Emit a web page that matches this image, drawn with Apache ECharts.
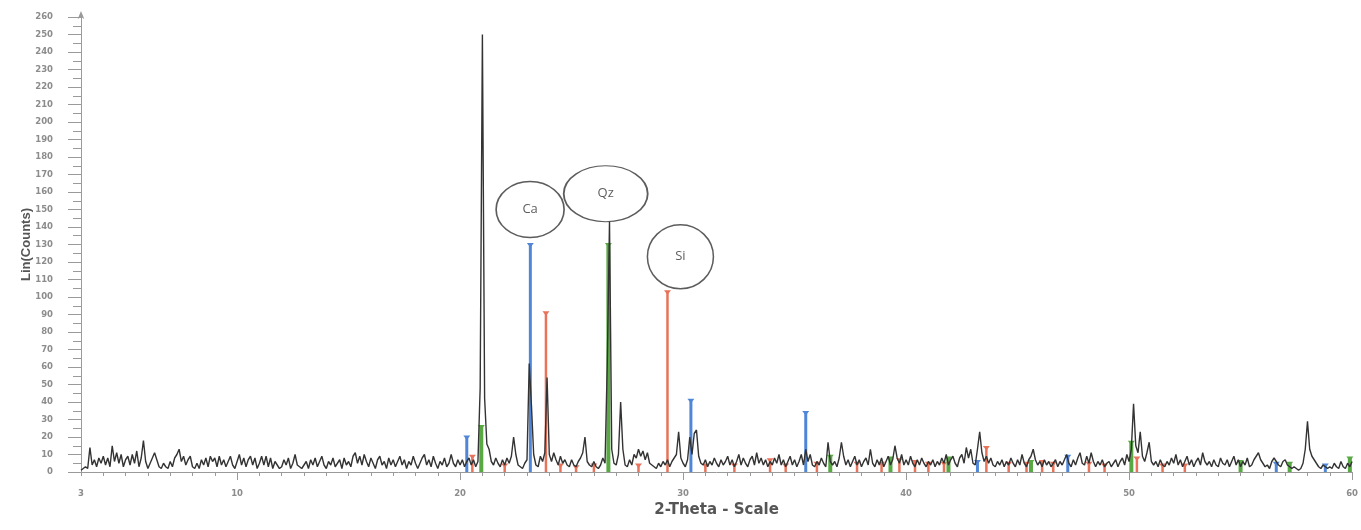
<!DOCTYPE html>
<html>
<head>
<meta charset="utf-8">
<script src="https://cdn.jsdelivr.net/npm/echarts@6/dist/echarts.min.js"></script>
<style>
html,body{margin:0;padding:0;background:#fff;}
#chart{width:1361px;height:530px;}
</style>
</head>
<body>
<div id="chart"></div>
<script>
// ---- scan grid (2-theta, degrees) ----
const scanStart = 3.0;
const scanStep = 0.1;

// ---- measured counts, 0.1 deg steps ----
const counts3to10 = [
  1,2,3,2,14,4,7,3,8,5,
  9,4,8,3,15,6,11,5,10,3,
  7,9,4,10,5,12,3,8,18,6,
  2,5,8,11,7,3,2,5,3,2,
  6,3,8,10,13,6,9,4,7,9,
  3,2,5,2,7,4,8,3,9,6,
  8,3,9,4,7,3,6,9,4,2
];
const counts10to20 = [
  6,10,4,8,3,7,9,4,8,2,
  5,9,4,9,3,8,2,6,4,2,
  3,7,4,8,2,5,10,4,3,2,
  4,6,2,7,4,8,3,6,9,4,
  2,6,4,8,3,5,7,2,8,4,
  6,3,9,11,5,9,4,10,6,3,
  8,5,2,7,9,4,6,2,8,4,
  7,3,6,9,4,7,2,6,4,9,
  5,2,5,8,10,4,7,3,9,5,
  2,6,4,8,3,5,10,5,3,7
];
const counts20to30 = [
  4,7,3,6,8,4,7,3,6,48,
  250,42,16,13,6,4,8,5,3,7,
  4,8,5,9,20,10,4,3,2,5,
  7,62,38,10,4,3,9,6,11,54,
  10,6,11,7,4,9,5,7,4,3,
  7,4,3,6,8,11,20,6,4,3,
  6,3,2,4,8,5,62,143,13,5,
  4,10,40,13,4,3,7,4,10,8,
  13,9,12,7,11,5,4,3,2,5,
  3,6,4,7,3,6,8,10,23,8
];
const counts30to40 = [
  5,3,7,20,10,22,24,9,5,4,
  7,3,6,4,8,5,3,7,4,6,
  9,4,7,3,6,10,4,8,5,3,
  7,9,4,11,5,8,4,7,3,6,
  4,8,5,10,4,7,3,6,9,4,
  7,3,6,10,4,13,6,10,4,3,
  6,4,8,5,3,17,6,4,6,3,
  8,17,9,4,7,3,6,9,4,7,
  3,6,8,4,13,5,3,7,4,8,
  3,6,9,4,7,15,8,5,10,4
];
const counts40to50 = [
  7,4,9,5,3,7,4,8,5,3,
  6,4,7,3,6,4,8,5,10,4,
  7,9,5,3,8,10,5,14,8,13,
  5,4,13,23,11,6,9,5,8,4,
  3,6,4,7,3,6,4,8,5,3,
  7,4,10,5,3,7,9,13,7,4,
  6,3,7,4,6,3,5,7,3,6,
  4,7,10,5,3,7,4,8,11,5,
  4,9,5,11,6,3,6,4,7,3,
  5,6,3,5,7,3,6,8,4,10
];
const counts50to60 = [
  6,13,39,15,11,23,9,6,11,17,
  6,4,6,3,7,4,3,6,4,8,
  5,10,4,7,3,6,9,4,7,3,
  6,8,4,11,6,4,6,3,7,4,
  3,8,5,4,7,3,6,9,4,7,
  3,6,4,8,3,4,7,9,11,7,
  5,3,4,2,6,8,6,4,3,6,
  7,4,3,2,3,2,1,2,5,13,
  29,13,9,7,5,3,2,4,3,2,
  3,2,5,3,2,6,3,2,5,3,
  6
];

// ---- reference patterns (stick position, relative height) ----
const calciteSticks = [[20.3,20],[23.15,130],[30.35,41],[35.5,34],[43.2,6],[47.25,9],[56.6,5],[58.8,4]];
const siliconSticks = [[20.55,9],[22.0,4],[23.85,91],[24.5,4],[25.2,3],[26.0,4],[28.0,4],[29.3,103],[31.0,4],[32.3,4],[33.9,7],[34.6,4],[36.0,5],[37.8,5],[38.9,5],[39.7,7],[40.4,6],[41.0,5],[41.7,5],[43.6,14],[44.6,5],[45.4,5],[46.1,6],[46.6,5],[48.2,5],[48.9,4],[50.35,8],[51.5,4],[52.5,4]];
const quartzSticks = [[20.95,26],[26.65,130],[36.6,9],[39.3,8],[41.9,8],[45.6,6],[50.1,17],[55.0,6],[57.2,5],[59.9,8]];

// ---- annotation labels (centre in data coords) ----
const phaseLabels = ['Ca','Qz','Si'];
const labelAngle = [23.14, 26.53, 29.88];
const labelCounts = [150, 159, 123];

// ---- axis ticks ----
const xLabelValues = [3,10,20,30,40,50,60];
const xMajorTicks = [10,20,30,40,50,60];

const allCounts = [].concat(counts3to10, counts10to20, counts20to30, counts30to40, counts40to50, counts50to60);
const scanData = allCounts.map((c, i) => [+(scanStart + i * scanStep).toFixed(2), c]);

function stickRenderer(color, w) {
  return function (params, api) {
    const x = api.value(0), h = api.value(1);
    const top = api.coord([x, h]);
    const base = api.coord([x, 0]);
    return {
      type: 'group',
      children: [
        { type: 'rect', shape: { x: top[0] - w / 2, y: top[1], width: w, height: base[1] - top[1] }, style: { fill: color } },
        { type: 'polygon', shape: { points: [[top[0] - 3.5, top[1] - 1.5], [top[0] + 3.5, top[1] - 1.5], [top[0], top[1] + 3]] }, style: { fill: color } }
      ]
    };
  };
}

const circleSizes = [[68, 56], [84, 56], [66, 64]];
const axisGrey = '#9a9a9a';
const labelFont = { fontFamily: 'DejaVu Sans, Verdana, sans-serif', fontWeight: 'bold', fontSize: 8.5, color: '#8c8c8c' };

const chart = echarts.init(document.getElementById('chart'), null, { renderer: 'canvas' });
chart.setOption({
  animation: false,
  backgroundColor: '#ffffff',
  grid: { left: 81, right: 6, top: 17, bottom: 58, containLabel: false },
  xAxis: [
    {
      type: 'value', min: 3, max: 60, interval: 1, position: 'bottom',
      axisLine: { show: true, lineStyle: { color: axisGrey, width: 1 } },
      axisTick: { show: true, length: 4, lineStyle: { color: axisGrey } },
      axisLabel: Object.assign({ customValues: xLabelValues, margin: 17 }, labelFont),
      splitLine: { show: false },
      name: '2-Theta - Scale', nameLocation: 'middle', nameGap: 29,
      nameTextStyle: { fontFamily: 'DejaVu Sans, Verdana, sans-serif', fontWeight: 'bold', fontSize: 15, color: '#555' }
    },
    {
      type: 'value', min: 3, max: 60, position: 'bottom',
      axisLine: { show: false },
      axisTick: { show: true, length: 8, customValues: xMajorTicks, lineStyle: { color: axisGrey } },
      axisLabel: { show: false },
      splitLine: { show: false }
    }
  ],
  yAxis: {
    type: 'value', min: 0, max: 260, interval: 10,
    axisLine: { show: true, lineStyle: { color: axisGrey, width: 1 }, symbol: ['none', 'arrow'], symbolSize: [5, 8], symbolOffset: [0, 6] },
    axisTick: { show: true, length: 13, lineStyle: { color: axisGrey } },
    minorTick: { show: true, splitNumber: 2, length: 8, lineStyle: { color: axisGrey } },
    axisLabel: Object.assign({ margin: 28 }, labelFont),
    splitLine: { show: false },
    name: 'Lin(Counts)', nameLocation: 'middle', nameGap: 48, nameRotate: 90, nameMoveOverlap: false,
    nameTextStyle: { fontFamily: 'Liberation Sans, Arial, sans-serif', fontWeight: 'bold', fontSize: 13, color: '#555' }
  },
  series: [
    { type: 'custom', name: 'Calcite', xAxisIndex: 0, renderItem: stickRenderer('#4f86d8', 3), data: calciteSticks, z: 2 },
    { type: 'custom', name: 'Silicon', xAxisIndex: 0, renderItem: stickRenderer('#e8735a', 2.5), data: siliconSticks, z: 2 },
    { type: 'custom', name: 'Quartz', xAxisIndex: 0, renderItem: stickRenderer('#58a844', 4), data: quartzSticks, z: 2 },
    {
      type: 'line', name: 'Pattern', xAxisIndex: 0, data: scanData, showSymbol: false, symbol: 'none',
      lineStyle: { color: '#333333', width: 1.4 }, z: 3
    },
    {
      type: 'scatter', name: 'Labels', xAxisIndex: 0,
      data: phaseLabels.map((n, i) => ({ name: n, value: [labelAngle[i], labelCounts[i]] })),
      symbol: 'circle',
      symbolSize: (val, p) => circleSizes[p.dataIndex],
      itemStyle: { color: 'rgba(255,255,255,0)', borderColor: '#333', borderWidth: 1.5 },
      label: { show: true, position: 'inside', formatter: '{b}', fontFamily: 'Open Sans, Liberation Sans, sans-serif', fontSize: 13, color: '#333' },
      z: 4
    }
  ]
});
</script>
</body>
</html>
